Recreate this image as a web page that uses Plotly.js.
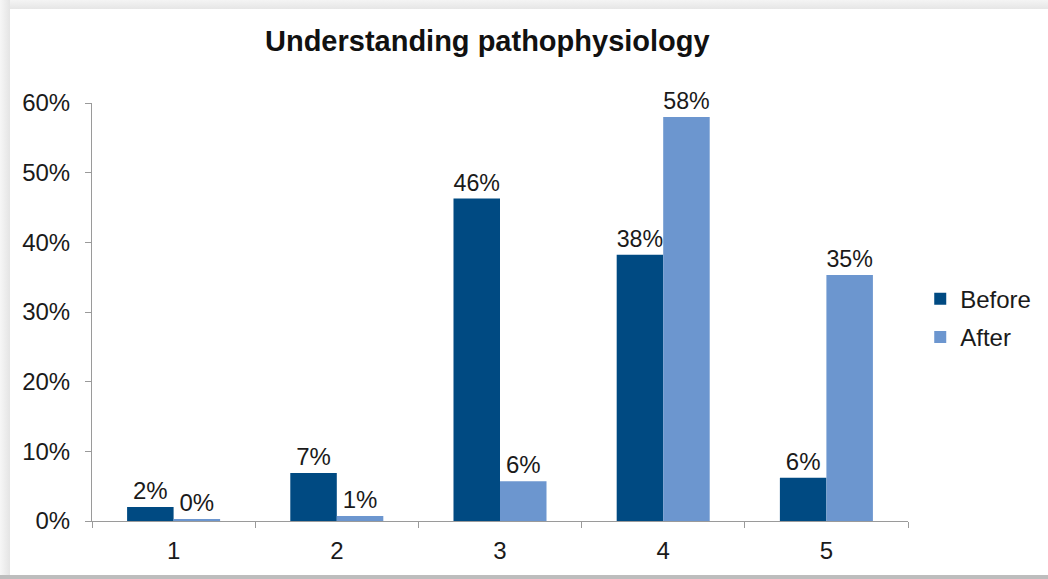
<!DOCTYPE html>
<html>
<head>
<meta charset="utf-8">
<script src="https://cdn.plot.ly/plotly-3.0.1.min.js"></script>
<style>
  html, body { margin: 0; padding: 0; background: #ffffff; }
  #wrap { position: relative; width: 1048px; height: 579px; overflow: hidden; }
  #frameTop { position: absolute; left: 0; top: 0; width: 1048px; height: 9px; background: linear-gradient(#f4f4f4, #e6e6e6); }
  #frameLeft { position: absolute; left: 0; top: 0; width: 10px; height: 579px; background: linear-gradient(to right, #f6f6f6, #e4e4e4); }
  #frameBottom { position: absolute; left: 0; top: 575px; width: 1048px; height: 4px; background: #bdbdbd; }
  #chart { position: absolute; left: 0; top: 0; width: 1048px; height: 579px; }
</style>
</head>
<body>
<div id="wrap">
  <div id="frameTop"></div>
  <div id="frameLeft"></div>
  <div id="frameBottom"></div>
  <div id="chart"></div>
</div>
<script>
const categories = ["1", "2", "3", "4", "5"];
const beforeValues = [0.020, 0.069, 0.463, 0.382, 0.062];
const afterValues = [0.003, 0.007, 0.057, 0.580, 0.353];
const seriesNames = ["Before", "After"];
const yTickValues = [0, 0.1, 0.2, 0.3, 0.4, 0.5, 0.6];
const yTickLabels = ["0%", "10%", "20%", "30%", "40%", "50%", "60%"];

const fontFamily = "Liberation Sans, Arial, sans-serif";
const labelFont = { family: fontFamily, size: 24, color: "#1a1a1a" };

const traces = [
  {
    type: "bar", name: seriesNames[0], x: categories, y: beforeValues,
    legendgroup: "g1",
    marker: { color: "#004a82" },
    texttemplate: "%{y:.0%}", textposition: "outside", cliponaxis: false,
    textfont: labelFont, hoverinfo: "x+y"
  },
  {
    type: "bar", name: seriesNames[1], x: categories, y: afterValues,
    legendgroup: "g2",
    marker: { color: "#6c96cf" },
    texttemplate: "%{y:.0%}", textposition: "outside", cliponaxis: false,
    textfont: labelFont, hoverinfo: "x+y"
  }
];

const layout = {
  width: 1048, height: 579,
  paper_bgcolor: "rgba(0,0,0,0)", plot_bgcolor: "rgba(0,0,0,0)",
  margin: { l: 92, r: 131, t: 103, b: 58 },
  title: {
    text: "<b>Understanding pathophysiology</b>",
    font: { family: fontFamily, size: 29, color: "#111111" },
    x: 0.465, xref: "container", xanchor: "center",
    y: 1 - 41 / 579, yref: "container", yanchor: "middle"
  },
  barmode: "group", bargap: 0.43, bargroupgap: 0,
  xaxis: {
    type: "category", tickson: "boundaries", ticks: "outside", ticklen: 6,
    tickcolor: "#9a9a9a", showline: true, linecolor: "#9a9a9a", linewidth: 1,
    showgrid: false, zeroline: false, ticklabelstandoff: 8,
    tickfont: labelFont
  },
  yaxis: {
    range: [0, 0.6], tickvals: yTickValues, ticktext: yTickLabels,
    ticks: "outside", ticklen: 6, tickcolor: "#9a9a9a",
    showline: true, linecolor: "#9a9a9a", linewidth: 1,
    showgrid: false, zeroline: false, ticklabelstandoff: 10,
    tickfont: labelFont
  },
  legend: {
    x: 1.015, xanchor: "left", y: 0.485, yanchor: "middle",
    font: labelFont, bgcolor: "rgba(0,0,0,0)", itemwidth: 30,
    tracegroupgap: 4, traceorder: "grouped"
  },
  showlegend: true
};

Plotly.newPlot("chart", traces, layout, { displayModeBar: false, staticPlot: true });
</script>
</body>
</html>
